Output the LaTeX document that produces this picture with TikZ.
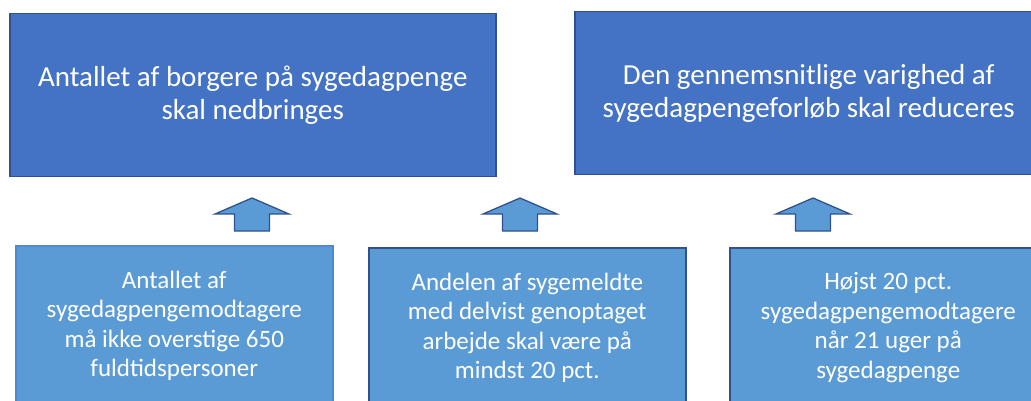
\documentclass[tikz,border=0pt]{standalone}
\usepackage{fontspec}
\setmainfont{Carlito}

\definecolor{goalfill}{HTML}{4472C4}
\definecolor{goaledge}{HTML}{2F528F}
\definecolor{targetfill}{HTML}{5B9BD5}
\definecolor{targetedge}{HTML}{2F528F}
\definecolor{targetedgelight}{HTML}{4F86D6}

\begin{document}
\begin{tikzpicture}[
				x=1pt, y=-1pt,
				goal/.style = {draw=goaledge, line width=1.5pt, fill=goalfill, text=white,
						font=\fontsize{29}{33}\selectfont, align=center, inner sep=0pt,
						minimum width=486pt, minimum height=163pt, anchor=north west},
				target/.style = {draw=targetedge, line width=1.5pt, fill=targetfill, text=white,
						font=\fontsize{25}{29.5}\selectfont, align=center, inner sep=0pt,
						minimum width=317pt, minimum height=160pt, anchor=north west},
				uparrow/.style = {draw=goaledge, line width=1.3pt, fill=targetfill, line join=miter},
			]
			\useasboundingbox (0,0) rectangle (1031,401);
			% goals
			\node[goal] (antal) at (9,13) {Antallet af borgere på sygedagpenge\\skal nedbringes};
			\node[goal, minimum width=468pt] (varighed) at (574,11) {Den gennemsnitlige varighed af\\sygedagpengeforløb skal reduceres};
			% targets
			\node[target, draw=targetedgelight] (fuldtid) at (15,245) {Antallet af\\sygedagpengemodtagere\\må ikke overstige 650\\fuldtidspersoner};
			\node[target] (delvis) at (368,247) {Andelen af sygemeldte\\med delvist genoptaget\\arbejde skal være på\\mindst 20 pct.};
			\node[target] (uger) at (729,247) {Højst 20 pct.\\sygedagpengemodtagere\\når 21 uger på\\sygedagpenge};
			% block arrows
			\foreach \x in {252,520,813}
				\draw[uparrow] (\x,198) -- ++(37,16) -- ++(-19.5,0) -- ++(0,17) -- ++(-35,0) -- ++(0,-17) -- ++(-19.5,0) -- cycle;
		\end{tikzpicture}
\end{document}
